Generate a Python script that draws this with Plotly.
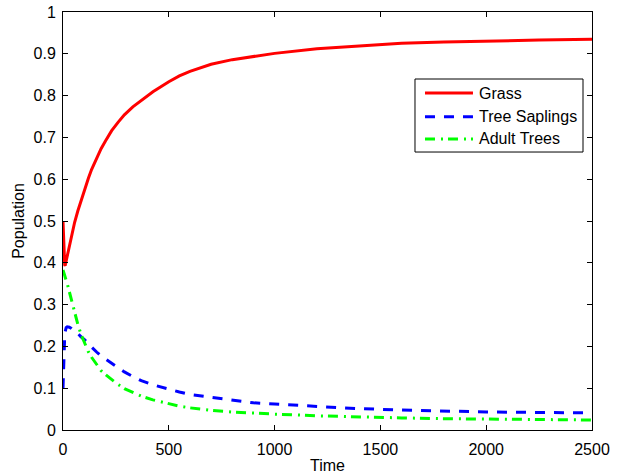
import plotly.graph_objects as go

# Simulated savanna dynamics: fractions of land cover over time
time = [0, 3, 8, 10, 15, 20, 30, 40, 55, 70, 85, 100, 120, 135, 160, 180, 200,
        230, 260, 290, 330, 370, 425, 500, 550, 600, 700, 800, 900, 1000, 1200,
        1400, 1600, 1800, 2000, 2250, 2500]

grass = [0.50, 0.44, 0.395, 0.393, 0.405, 0.418, 0.442, 0.465, 0.497, 0.524,
         0.549, 0.573, 0.602, 0.623, 0.652, 0.673, 0.691, 0.716, 0.736, 0.754,
         0.773, 0.789, 0.809, 0.833, 0.847, 0.858, 0.875, 0.886, 0.894, 0.901,
         0.912, 0.919, 0.925, 0.928, 0.931, 0.933, 0.935]

saplings = [0.10, 0.17, 0.225, 0.235, 0.245, 0.247, 0.246, 0.243, 0.238, 0.231,
            0.223, 0.217, 0.206, 0.198, 0.186, 0.177, 0.170, 0.159, 0.148, 0.139,
            0.128, 0.118, 0.108, 0.097, 0.091, 0.085, 0.078, 0.071, 0.065, 0.062,
            0.056, 0.051, 0.048, 0.045, 0.043, 0.042, 0.041]

adults = [0.383, 0.379, 0.372, 0.368, 0.358, 0.35, 0.33, 0.31, 0.28, 0.253,
          0.229, 0.21, 0.187, 0.174, 0.155, 0.142, 0.133, 0.12, 0.109, 0.099,
          0.089, 0.081, 0.072, 0.062, 0.057, 0.053, 0.047, 0.043, 0.040, 0.038,
          0.034, 0.031, 0.029, 0.027, 0.026, 0.025, 0.024]

series_names = ["Grass", "Tree Saplings", "Adult Trees"]
series_values = [grass, saplings, adults]
series_colors = ["#ff0000", "#0000ff", "#00ff00"]
series_dash = ["solid", "10px,9px", "10px,6px,2px,5px"]

x_ticks = [0, 500, 1000, 1500, 2000, 2500]
x_tick_labels = ["0", "500", "1000", "1500", "2000", "2500"]
y_ticks = [0, 0.1, 0.2, 0.3, 0.4, 0.5, 0.6, 0.7, 0.8, 0.9, 1]
y_tick_labels = ["0", "0.1", "0.2", "0.3", "0.4", "0.5", "0.6", "0.7", "0.8", "0.9", "1"]

FONT = "Liberation Sans, Arial, Helvetica, sans-serif"
FS = 16

fig = go.Figure()
for name, vals, color, dash in zip(series_names, series_values, series_colors, series_dash):
    fig.add_trace(go.Scatter(
        x=time, y=vals, mode="lines", name=name,
        line=dict(color=color, width=3, dash=dash),
        showlegend=False,
    ))

# Boxed legend in the upper right of the axes
legend_box = dict(x0=0.6654, x1=0.983, y0=0.665, y1=0.8397)
row_y = [0.8062, 0.7495, 0.6962]
line_x = (0.6843, 0.775)
text_x = 0.7864

shapes = [dict(type="rect", xref="paper", yref="paper",
               line=dict(color="black", width=1), fillcolor="white", **legend_box)]
annotations = []
for name, color, dash, ry in zip(series_names, series_colors, series_dash, row_y):
    shapes.append(dict(type="line", xref="paper", yref="paper",
                       x0=line_x[0], x1=line_x[1], y0=ry, y1=ry,
                       line=dict(color=color, width=3, dash=dash)))
    annotations.append(dict(xref="paper", yref="paper", x=text_x, y=ry,
                            text=name, showarrow=False, xanchor="left", yanchor="middle",
                            xshift=-2, font=dict(family=FONT, size=FS, color="black")))

axis_common = dict(
    showline=True, linecolor="black", linewidth=1, mirror="ticks",
    ticks="inside", ticklen=5, tickwidth=1, tickcolor="black",
    showgrid=False, zeroline=False, automargin=False,
    tickfont=dict(family=FONT, size=FS, color="black"),
)

fig.update_layout(
    width=628, height=474,
    margin=dict(l=63, r=36, t=12, b=44),
    paper_bgcolor="white", plot_bgcolor="white",
    font=dict(family=FONT, size=FS, color="black"),
    xaxis=dict(range=[0, 2500], tickmode="array", tickvals=x_ticks, ticktext=x_tick_labels,
               ticklabelstandoff=5,
               title=dict(text="Time", font=dict(family=FONT, size=FS), standoff=8),
               **axis_common),
    yaxis=dict(range=[0, 1], tickmode="array", tickvals=y_ticks, ticktext=y_tick_labels,
               ticklabelstandoff=3,
               title=dict(text="Population", font=dict(family=FONT, size=FS), standoff=4),
               **axis_common),
    shapes=shapes,
    annotations=annotations,
)

fig.write_html("out.html")
